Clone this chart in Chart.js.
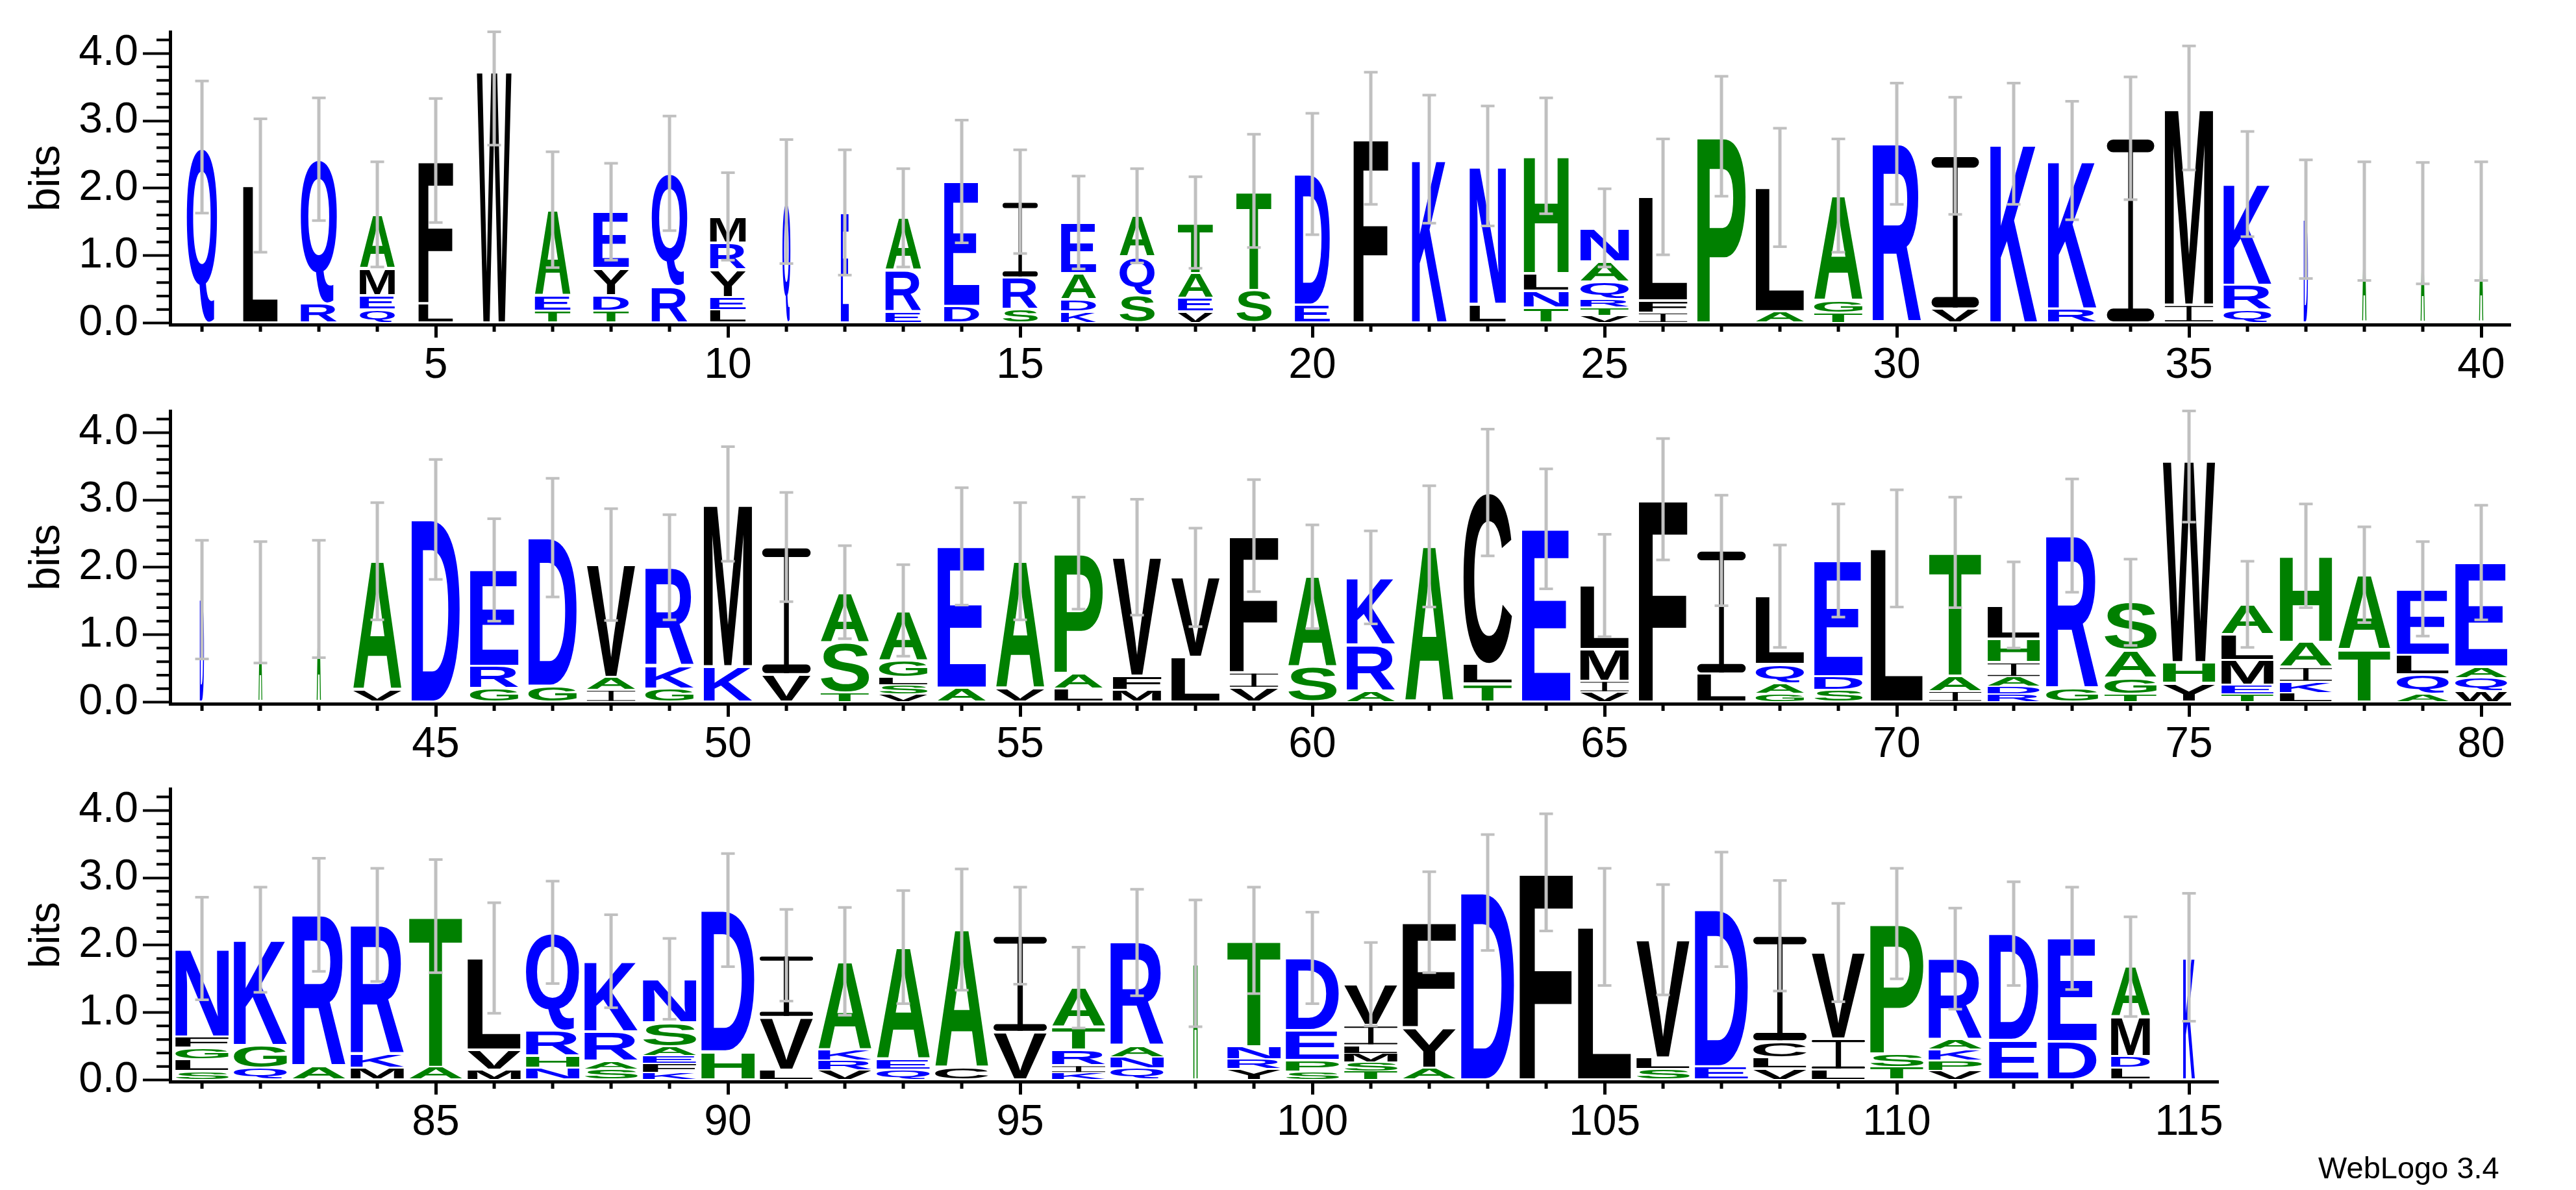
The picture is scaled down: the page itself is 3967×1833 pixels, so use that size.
<!DOCTYPE html>
<html>
<head>
<meta charset="utf-8">
<script src="https://cdn.jsdelivr.net/npm/chart.js@4.4.1/dist/chart.umd.min.js"></script>
<style>
    html, body { margin: 0; padding: 0; background: #fff; }
    body { width: 3967px; height: 1833px; position: relative; overflow: hidden; }
    canvas { position: absolute; left: 0; }
    #credit { position: absolute; left: 3570px; top: 1775px; font: 47px "Liberation Sans", Arial, sans-serif; line-height: 47px; color: #000; white-space: nowrap; }
</style>
</head>
<body>
<canvas id="row1" width="3967" height="584" style="top:0px"></canvas>
<canvas id="row2" width="3967" height="584" style="top:584px"></canvas>
<canvas id="row3" width="3967" height="667" style="top:1166px"></canvas>
<div id="credit">WebLogo 3.4</div>
<script>
// residues of each column, bottom -> top
const residues = [
    "Q", "L", "RQ", "QEMA", "LF", "W", "TEA", "TDYE", "RQ", "LEYRM",
    "Q", "E", "ERA", "DE", "SRI", "KDAE", "SQA", "VEAT", "ST", "ED",
    "F", "K", "LN", "TNLH", "VTRQAN", "IFL", "P", "AL", "TGA", "R",
    "VI", "K", "RK", "I", "IM", "QRK", "D", "A", "A", "A",
    "D", "A", "A", "VA", "D", "GRE", "GD", "IAV", "GKR", "KM",
    "VI", "TSA", "VSLGA", "AE", "VA", "LAP", "MFV", "LV", "VIF", "SA",
    "ARK", "A", "TLC", "E", "VIML", "F", "LI", "GAQL", "SDE", "L",
    "IAT", "RDAIHL", "GR", "TGAS", "YHW", "TEMLA", "LKIAH", "TA", "AQLE", "WQAE",
    "SLGFN", "QGK", "AR", "MKR", "AT", "MVL", "NHRQ", "SARK", "KFEASN", "HD",
    "LVI", "VRKA", "QEA", "CA", "VI", "KIRTA", "QNAR", "H", "YRNT", "SPED",
    "TSMLIV", "AYF", "D", "F", "L", "SLV", "ED", "VLCI", "LIV", "TSP",
    "VPKAR", "ED", "DE", "LDMA", "K"
]

// height (bits) of each residue, same order
const bits = [
    [2.61], [2.04], [.29, 2.14], [.2, .21, .4, .8], [.29, 2.12], [3.73], [.18, .23, 1.27], [.18, .23, .40, .84], [.54, 1.68], [.19, .19, .41, .40, .39],
    [1.80], [1.64], [.17, .61, .78], [.25, 1.85], [.2, .47, 1.13], [.17, .18, .39, .75], [.41, .57, .61], [.17, .2, .37, .75], [.49, 1.47], [.27, 1.94],
    [2.74], [2.43], [.28, 2.05], [.23, .25, .26, 1.74], [.11, .12, .12, .26, .30, .50], [.15, .18, 1.54], [2.77], [.17, 1.84], [.15, .18, 1.56], [2.66],
    [.21, 2.27], [2.66], [.21, 2.20], [2.74], [.27, 2.92], [.19, .37, 1.50], [1.54], [1.51], [1.48], [1.51],
    [1.52], [1.48], [1.53], [.18, 1.91], [2.71], [.20, .33, 1.43], [.24, 2.20], [.18, .19, 1.67], [.20, .34, 1.46], [.53, 2.41],
    [.41, 1.89], [.14, .75, .74], [.12, .13, .12, .25, .74], [.21, 2.10], [.20, 1.89], [.20, .23, 1.78], [.18, .21, 1.76], [.67, 1.18], [.21, .23, 2.03], [.52, 1.34],
    [.16, .69, 1.00], [2.31], [.27, .29, 2.55], [2.57], [.15, .16, .47, .95], [3.01], [.42, 1.83], [.13, .15, .28, 1.01], [.18, .20, 1.72], [2.28],
    [.16, .23, 1.83], [.12, .11, .14, .22, .35, .50], [.20, 2.27], [.12, .24, .41, .71], [.28, .31, 2.99], [.12, .13, .37, .38, .45], [.14, .16, .22, .37, 1.28], [.78, 1.11], [.12, .29, .29, .98], [.16, .20, .16, 1.55],
    [.13, .18, .17, .16, 1.31], [.17, .34, 1.57], [.20, 2.25], [.18, .20, 1.92], [.19, 2.24], [.15, .30, 1.36], [.18, .18, .37, 1.46], [.16, .12, .44, 1.04], [.11, .13, .12, .13, .36, .65], [.42, 2.10],
    [.15, .78, .92], [.15, .14, .16, 1.31], [.16, .15, 1.66], [.18, 2.05], [.71, 1.43], [.11, .10, .24, .34, .58], [.17, .17, .16, 1.54], [1.73], [.17, .14, .19, 1.57], [.13, .16, .45, 1.07],
    [.13, .13, .13, .12, .30, .61], [.18, .59, 1.57], [2.78], [3.08], [2.27], [.16, .17, 1.75], [.20, 2.33], [.17, .16, .24, 1.57], [.15, .46, 1.28], [.19, .20, 1.93],
    [.14, .15, .16, .14, 1.21], [.59, 1.58], [.57, 1.53], [.18, .17, .58, .75], [1.82]
]

// error bar half length (bits)
const errors = [
    .98, .99, .91, .78, .92, 1.09, .86, .72, .85, .65,
    .92, .93, .73, .91, .77, .69, .70, .68, .84, .90,
    .98, .95, .89, .86, .58, .86, .89, .88, .84, .90,
    .87, .90, .88, .91, .92, .78, .88, .88, .90, .88,
    .88, .90, .87, .87, .89, .76, .88, .83, .78, .85,
    .81, .69, .68, .87, .87, .83, .86, .73, .83, .77,
    .69, .90, .94, .89, .76, .90, .82, .76, .84, .87,
    .82, .64, .84, .64, .91, .64, .77, .71, .70, .85,
    .76, .78, .84, .84, .84, .82, .76, .69, .60, .84,
    .68, .80, .84, .90, .72, .60, .79, .94, .79, .68,
    .62, .75, .86, .87, .87, .82, .85, .82, .73, .82,
    .75, .77, .76, .74, .95
]

// fraction of sequences present in the column (stack width)
const occupancy = [
    .57, .65, .68, .66, .65, .65, .67, .67, .67, .67,
    .15, .15, .67, .66, .66, .66, .66, .66, .66, .66,
    .65, .65, .68, .84, .91, .91, .91, .91, .91, .91,
    .89, .88, .91, .89, .91, .90, .08, .08, .08, .08,
    .08, .07, .08, .91, .91, .91, .91, .91, .91, .91,
    .91, .91, .91, .91, .91, .91, .91, .91, .91, .91,
    .91, .91, .91, .91, .91, .91, .91, .91, .91, .98,
    .98, .98, .98, .98, .98, .98, .98, .98, .98, .98,
    1, 1, 1, 1, 1, 1, 1, 1, 1, 1,
    1, 1, 1, 1, 1, 1, 1, .08, 1, 1,
    1, 1, 1, 1, 1, 1, 1, 1, 1, 1,
    1, .93, .92, .73, .22
]

const yTicks = [0, 1, 2, 3, 4]
const xTicks = [5, 10, 15, 20, 25, 30, 35, 40, 45, 50, 55, 60, 65, 70, 75, 80, 85, 90, 95, 100, 105, 110, 115]
const rows = [["row1", 1, 40], ["row2", 41, 80], ["row3", 81, 115]]
const maxBits = 4.32

const font = '"Liberation Sans", Arial, sans-serif'
const STACK = 82 / 90
const colourOf = c => "RKDENQ".includes(c) ? "#0000ff" : "SGHTAP".includes(c) ? "#008000" : "#000000"

const boxes = {}
const glyphBox = (ctx, c) => {
    if (!boxes[c]) {
        ctx.save()
        ctx.font = `bold 200px ${font}`
        const m = ctx.measureText(c)
        boxes[c] = {
            left: m.actualBoundingBoxLeft,
            ascent: m.actualBoundingBoxAscent,
            w: m.actualBoundingBoxLeft + m.actualBoundingBoxRight,
            h: m.actualBoundingBoxAscent + m.actualBoundingBoxDescent
        }
        ctx.restore()
    }
    return boxes[c]
}

const drawGlyph = (ctx, c, x, y, w, h) => {
    if (w <= 0 || h <= 0) return
    ctx.fillStyle = colourOf(c)
    if (c === "I") {
        // weblogo style I: stem with rounded bars
        const cap = Math.max(h * 0.07, 1)
        const stem = Math.max(w * 0.1, 1)
        const r = Math.min(cap / 2, w / 2)
        ctx.beginPath()
        ctx.roundRect(x, y, w, cap, r)
        ctx.roundRect(x, y + h - cap, w, cap, r)
        ctx.fill()
        ctx.fillRect(x + (w - stem) / 2, y, stem, h)
        return
    }
    const b = glyphBox(ctx, c)
    ctx.save()
    ctx.font = `bold 200px ${font}`
    ctx.textAlign = "left"
    ctx.textBaseline = "alphabetic"
    ctx.translate(x, y)
    ctx.scale(w / b.w, h / b.h)
    ctx.fillText(c, b.left, b.ascent)
    ctx.restore()
}

const logoPlugin = {
    id: "logo",
    beforeDatasetsDraw(chart) {
        // minor ticks
        const ctx = chart.ctx
        const {x, y} = chart.scales
        const area = chart.chartArea
        ctx.save()
        ctx.strokeStyle = "#000"
        ctx.lineWidth = 5
        ctx.beginPath()
        for (let p = Math.ceil(x.min); p <= x.max; p++) {
            if (p % 5 === 0) continue
            const px = x.getPixelForValue(p)
            ctx.moveTo(px, area.bottom)
            ctx.lineTo(px, area.bottom + 11)
        }
        ctx.stroke()
        ctx.lineWidth = 4
        ctx.beginPath()
        for (let k = 1; k / 5 <= y.max; k++) {
            if (k % 5 === 0) continue
            const py = y.getPixelForValue(k / 5)
            ctx.moveTo(area.left, py)
            ctx.lineTo(area.left - 21, py)
        }
        ctx.stroke()
        ctx.restore()
    },
    afterDatasetsDraw(chart) {
        const ctx = chart.ctx
        const letters = chart.data.datasets[0].data
        chart.getDatasetMeta(0).data.forEach((bar, i) => {
            const item = letters[i]
            const w = bar.width * STACK * occupancy[item.x - 1]
            const h = bar.base - bar.y
            const pad = Math.min(2, h * 0.08)
            drawGlyph(ctx, item.c, bar.x - w / 2, bar.y + pad, w, h - 2 * pad)
        })
        ctx.save()
        ctx.strokeStyle = "#c0c0c0"
        chart.getDatasetMeta(1).data.forEach(bar => {
            ctx.lineWidth = 5
            ctx.beginPath()
            ctx.moveTo(bar.x, bar.y)
            ctx.lineTo(bar.x, bar.base)
            ctx.stroke()
            ctx.lineWidth = 4
            ctx.beginPath()
            ctx.moveTo(bar.x - 10.5, bar.y)
            ctx.lineTo(bar.x + 10.5, bar.y)
            ctx.moveTo(bar.x - 10.5, bar.base)
            ctx.lineTo(bar.x + 10.5, bar.base)
            ctx.stroke()
        })
        ctx.restore()
    }
}

const makeRow = (id, first, last) => {
    const letterPoints = []
    const errorPoints = []
    for (let p = first; p <= last; p++) {
        let base = 0
        residues[p - 1].split("").forEach((c, k) => {
            const h = bits[p - 1][k]
            letterPoints.push({x: p, y: [base, base + h], c})
            base += h
        })
        errorPoints.push({x: p, y: [base - errors[p - 1], Math.min(base + errors[p - 1], maxBits)]})
    }
    const canvas = document.getElementById(id)
    const span = last - first + 1.045
    const rightPad = 3967 - 262 - span * 90
    new Chart(canvas, {
        type: "bar",
        data: {
            datasets: [{
                label: "residues",
                data: letterPoints,
                backgroundColor: "rgba(0,0,0,0)",
                borderWidth: 0,
                grouped: false,
                barPercentage: 1,
                categoryPercentage: 1
            },
            {
                label: "error",
                data: errorPoints,
                backgroundColor: "rgba(0,0,0,0)",
                borderWidth: 0,
                grouped: false,
                barPercentage: 1,
                categoryPercentage: 1
            }]
        },
        options: {
            responsive: false,
            animation: false,
            devicePixelRatio: 1,
            layout: {padding: {left: 0, right: rightPad, top: 49, bottom: 0}},
            plugins: {legend: {display: false}, tooltip: {enabled: false}},
            scales: {
                x: {
                    type: "linear",
                    min: first - 0.545,
                    max: last + 0.5,
                    offset: false,
                    afterBuildTicks: axis => { axis.ticks = xTicks.filter(v => v >= first && v <= last).map(v => ({value: v})) },
                    afterFit: axis => { axis.height = canvas.height - 500 },
                    grid: {display: true, drawOnChartArea: false, offset: false, tickLength: 20, tickWidth: 5, tickColor: "#000"},
                    border: {display: true, width: 5, color: "#000"},
                    ticks: {autoSkip: false, maxRotation: 0, padding: 4, color: "#000", font: {family: font, size: 66}, callback: v => String(v)}
                },
                y: {
                    type: "linear",
                    min: -0.025,
                    max: maxBits,
                    afterBuildTicks: axis => { axis.ticks = yTicks.map(v => ({value: v})) },
                    afterFit: axis => { axis.width = 262 },
                    grid: {display: true, drawOnChartArea: false, tickLength: 42, tickWidth: 4, tickColor: "#000"},
                    border: {display: true, width: 5, color: "#000"},
                    ticks: {padding: 7, color: "#000", font: {family: font, size: 66}, callback: v => v.toFixed(1)},
                    title: {display: true, text: "bits", color: "#000", font: {family: font, size: 66}, padding: {top: 33, bottom: 0}}
                }
            }
        },
        plugins: [logoPlugin]
    })
}

rows.forEach(([id, first, last]) => makeRow(id, first, last))
</script>
</body>
</html>
